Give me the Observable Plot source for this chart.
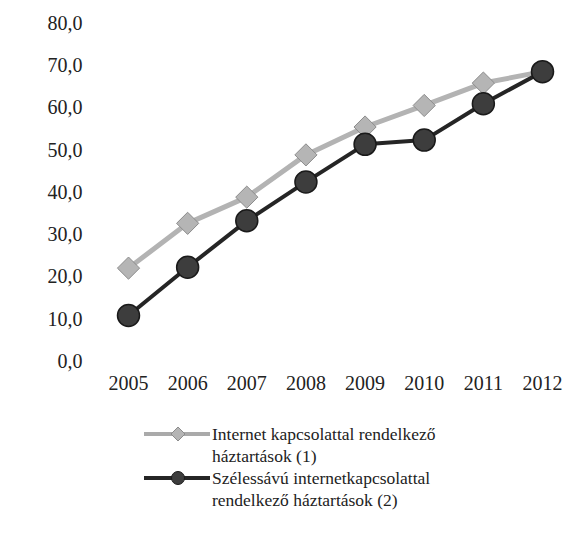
<!DOCTYPE html>
<html><head><meta charset="utf-8">
<script src="https://cdn.jsdelivr.net/npm/d3@7"></script>
<script src="https://cdn.jsdelivr.net/npm/@observablehq/plot@0.6"></script>
<style>
body{margin:0;background:#fff;font-family:"Liberation Serif","Times New Roman",Times,Tinos,"DejaVu Serif",serif;color:#222}
#legend{position:absolute;left:0;top:423px;width:563px}
.item{position:relative;height:44px}
.item svg{position:absolute;left:140px;top:0}
.item .txt{position:absolute;left:212px;top:0;font-size:17.5px;line-height:22px;white-space:nowrap}
svg text{font-family:"Liberation Serif","Times New Roman",Times,Tinos,"DejaVu Serif",serif}
</style>
</head><body><div id="chart"></div><div id="legend"></div><script>
const years = [2005, 2006, 2007, 2008, 2009, 2010, 2011, 2012];
const internet = [22.1, 32.7, 38.9, 48.9, 55.5, 60.6, 65.9, 68.6];
const broadband = [10.9, 22.3, 33.3, 42.5, 51.4, 52.4, 61.0, 68.6];
const yTicks = [0, 10, 20, 30, 40, 50, 60, 70, 80];
const legendLines = [
  ["Internet kapcsolattal rendelkező", "háztartások (1)"],
  ["Szélessávú internetkapcsolattal", "rendelkező háztartások (2)"]
];

const d1 = years.map((y, i) => ({year: y, value: internet[i]}));
const d2 = years.map((y, i) => ({year: y, value: broadband[i]}));
const fmt = d => d.toFixed(1).replace(".", ",");
const FONT = '"Liberation Serif", "Times New Roman", Times, Tinos, "DejaVu Serif", serif';

const chart = Plot.plot({
  width: 563, height: 400,
  marginLeft: 128, marginRight: 21, marginTop: 23, marginBottom: 39,
  style: {fontFamily: FONT, fontSize: "20px", color: "#222", background: "#fff", overflow: "visible"},
  x: {type: "linear", domain: [2005, 2012]},
  y: {domain: [0, 80]},
  marks: [
    Plot.axisX({ticks: years, tickFormat: d => String(d), tickSize: 0, tickPadding: 14, label: null, fontSize: 20, fontFamily: FONT}),
    Plot.axisY({ticks: yTicks, tickFormat: fmt, tickSize: 0, tickPadding: 46, label: null, fontSize: 20, fontFamily: FONT}),
    Plot.line(d1, {x: "year", y: "value", stroke: "#b3b3b3", strokeWidth: 5}),
    Plot.dot(d1, {x: "year", y: "value", symbol: "diamond2", r: 10, fill: "#b5b5b5", stroke: "#8c8c8c", strokeWidth: 1}),
    Plot.line(d2, {x: "year", y: "value", stroke: "#252525", strokeWidth: 4}),
    Plot.dot(d2, {x: "year", y: "value", symbol: "circle", r: 11, fill: "#3d3d3d", stroke: "#1a1a1a", strokeWidth: 1.5})
  ]
});
document.getElementById("chart").appendChild(chart);

const legend = document.getElementById("legend");
const swatches = [
  `<svg width="72" height="22"><line x1="4" y1="11" x2="70" y2="11" stroke="#aaa" stroke-width="4"/><path d="M38,4 L45,11 L38,18 L31,11Z" fill="#b5b5b5" stroke="#8c8c8c"/></svg>`,
  `<svg width="72" height="22"><line x1="4" y1="11" x2="70" y2="11" stroke="#252525" stroke-width="4"/><circle cx="38" cy="11" r="6.5" fill="#3d3d3d" stroke="#1a1a1a"/></svg>`
];
legendLines.forEach((lines, i) => {
  const div = document.createElement("div");
  div.className = "item";
  div.innerHTML = swatches[i] + `<div class="txt">${lines.join("<br>")}</div>`;
  legend.appendChild(div);
});
</script></body></html>
